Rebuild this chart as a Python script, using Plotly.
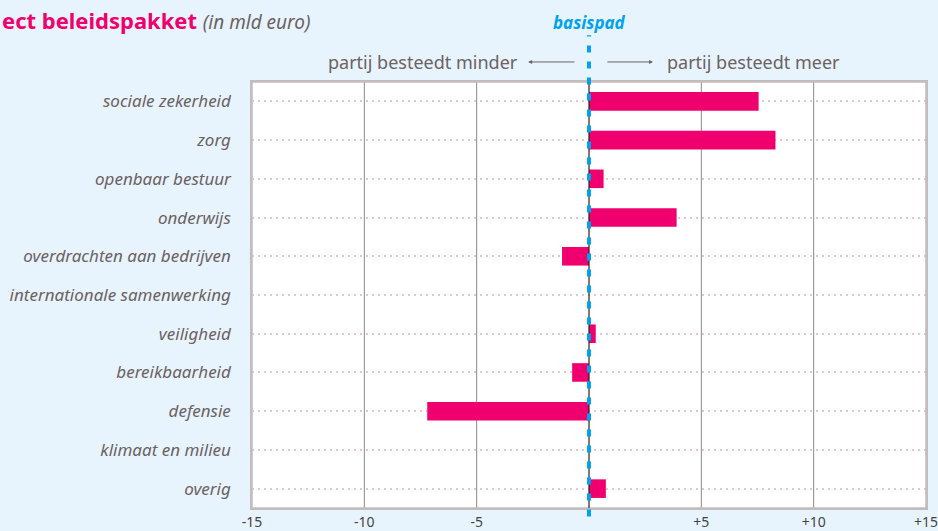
import plotly.graph_objects as go

categories = ["sociale zekerheid", "zorg", "openbaar bestuur", "onderwijs",
              "overdrachten aan bedrijven", "internationale samenwerking",
              "veiligheid", "bereikbaarheid", "defensie", "klimaat en milieu", "overig"]
values = [7.55, 8.3, 0.65, 3.9, -1.2, 0.0, 0.3, -0.75, -7.2, 0.0, 0.75]
tick_vals = [-15, -10, -5, 0, 5, 10, 15]
tick_text = ["-15", "-10", "-5", "", "+5", "+10", "+15"]
grid_vals = [-10, -5, 5, 10]

BG = "#e8f4fd"
PINK = "#f0006e"
BLUE = "#00a2f0"
GRAY = "#6b6262"
BORDER = "#c4bcbc"
FONT = "Noto Sans"

fig = go.Figure()
fig.add_trace(go.Bar(
    x=values, y=categories, orientation="h",
    marker=dict(color=PINK, line=dict(width=0)),
    width=0.48, hoverinfo="skip"))

for g in grid_vals:
    fig.add_shape(type="line", xref="x", yref="paper", x0=g, x1=g, y0=0, y1=1,
                  line=dict(color="#8a8a8a", width=1), layer="below")

# plot frame
fig.add_shape(type="rect", xref="paper", yref="paper", x0=0, x1=1, y0=0, y1=1,
              line=dict(color=BORDER, width=1.5), layer="above")

# zero line and basispad dashed line
fig.add_shape(type="line", xref="x", yref="paper", x0=0, x1=0, y0=0, y1=1,
              line=dict(color="#222222", width=1.2), layer="above")
fig.add_shape(type="line", xref="x", yref="paper", x0=0, x1=0, y0=-0.02, y1=1.11,
              line=dict(color=BLUE, width=4, dash="7px,9px"), layer="above")

fig.add_annotation(x=0, y=1.14, xref="x", yref="paper", text="<b><i>basispad</i></b>",
                   showarrow=False, font=dict(family=FONT, size=17, color=BLUE),
                   xanchor="center", yanchor="middle")

fig.add_annotation(x=-3.07, y=1.047, xref="x", yref="paper", text="partij besteedt minder",
                   showarrow=False, font=dict(family=FONT, size=18, color=GRAY),
                   xanchor="right", yanchor="middle")
fig.add_annotation(x=3.38, y=1.047, xref="x", yref="paper", text="partij besteedt meer",
                   showarrow=False, font=dict(family=FONT, size=18, color=GRAY),
                   xanchor="left", yanchor="middle")
fig.add_annotation(x=-2.71, y=1.047, ax=-0.58, ay=0, xref="x", yref="paper",
                   axref="x", ayref="pixel", text="", showarrow=True,
                   arrowhead=2, arrowsize=0.8, arrowwidth=1, arrowcolor=GRAY)
fig.add_annotation(x=2.85, y=1.047, ax=0.75, ay=0, xref="x", yref="paper",
                   axref="x", ayref="pixel", text="", showarrow=True,
                   arrowhead=2, arrowsize=0.8, arrowwidth=1, arrowcolor=GRAY)

fig.add_annotation(x=0, y=1.0, xref="paper", yref="paper", xshift=-252, yshift=62,
                   text="<b><span style='color:%s'>ect beleidspakket</span></b> "
                        "<i><span style='font-size:19px'>(in mld euro)</span></i>" % PINK,
                   showarrow=False, font=dict(family=FONT, size=22, color=GRAY),
                   xanchor="left", yanchor="middle")

fig.update_layout(
    width=938, height=531,
    margin=dict(l=252, r=12, t=82, b=23, autoexpand=False),
    paper_bgcolor=BG, plot_bgcolor="white",
    showlegend=False, bargap=0.5,
    font=dict(family=FONT, color=GRAY),
    xaxis=dict(range=[-15, 15], tickvals=tick_vals, ticktext=tick_text,
               showgrid=False, zeroline=False, showline=True, mirror=True,
               linecolor=BORDER, linewidth=1.5, ticks="", automargin=False,
               ticklabeloverflow="allow",
               tickfont=dict(family=FONT, size=14, color="#444444")),
    yaxis=dict(categoryorder="array", categoryarray=categories, autorange="reversed",
               showgrid=True, gridcolor="#e2c8ce", gridwidth=2, griddash="2px,4px",
               zeroline=False, showline=True, mirror=True, linecolor=BORDER,
               linewidth=1.5, ticks="", ticklabelstandoff=16, automargin=False,
               tickfont=dict(family=FONT, size=17, color=GRAY, style="italic")),
)

fig.write_html("out.html", config={"displayModeBar": False},
               post_script="document.body.style.margin='0';document.body.style.background='%s';" % BG)
